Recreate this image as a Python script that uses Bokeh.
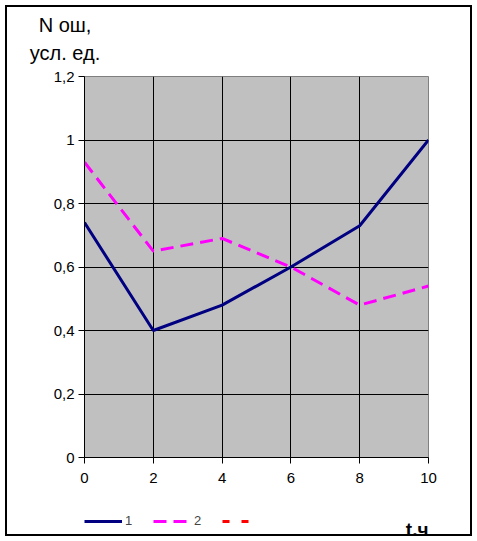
from bokeh.plotting import figure
from bokeh.layouts import column
from bokeh.models import (FixedTicker, CustomJSTickFormatter, Legend, LegendItem, Label,
                          ColumnDataSource, Div)
from bokeh.core.properties import value
from bokeh.embed import file_html
from bokeh.resources import INLINE

# data
t_hours = [0, 2, 4, 6, 8, 10]
series_1 = [0.74, 0.40, 0.48, 0.60, 0.73, 1.00]
series_2 = [0.93, 0.65, 0.69, 0.60, 0.48, 0.54]
y_ticks = [0, 0.2, 0.4, 0.6, 0.8, 1.0, 1.2]
x_ticks = [0, 2, 4, 6, 8, 10]
legend_labels = ["1", "2", " "]
y_title_lines = ["N ош,", "усл. ед."]
x_title = "t,ч"

FONT = "Liberation Sans"
W = 463

# top: y-axis caption as real text
top = Div(text="<br>".join(y_title_lines), width=W, height=59, margin=0,
          styles={"font-family": "'Liberation Sans', Arial, sans-serif", "font-size": "20px",
                  "line-height": "28px", "color": "black", "text-align": "center",
                  "width": "116px", "padding-top": "4px", "white-space": "nowrap"})

# main chart
p = figure(width=W, height=424, output_backend="svg", toolbar_location=None,
           x_range=(0, 10), y_range=(0, 1.2),
           min_border_left=77, min_border_right=42, min_border_top=10, min_border_bottom=33)
p.background_fill_color = "#C0C0C0"
p.border_fill_color = "white"
p.outline_line_color = "#808080"
p.outline_line_width = 1

for ax in (p.xaxis[0], p.yaxis[0]):
    ax.axis_line_color = "black"
    ax.axis_line_width = 1
    ax.major_tick_line_color = "black"
    ax.major_tick_in = 0
    ax.major_tick_out = 6
    ax.minor_tick_line_color = None
    ax.major_label_text_font = FONT
    ax.major_label_text_font_size = "15px"
    ax.major_label_text_color = "black"

p.xaxis.ticker = FixedTicker(ticks=x_ticks)
p.yaxis.ticker = FixedTicker(ticks=y_ticks)
p.yaxis.formatter = CustomJSTickFormatter(code="return String(Math.round(tick*10)/10).replace('.', ',');")
p.xaxis.major_label_standoff = 9
p.yaxis.major_label_standoff = 4

p.xgrid.ticker = FixedTicker(ticks=x_ticks)
p.ygrid.ticker = FixedTicker(ticks=y_ticks)
p.grid.grid_line_color = "black"
p.grid.grid_line_width = 1

src = ColumnDataSource(dict(t=t_hours, s1=series_1, s2=series_2))
p.line("t", "s1", source=src, line_color="#000080", line_width=3)
p.line("t", "s2", source=src, line_color="#FF00FF", line_width=3, line_dash="13 7")

# bottom strip: legend and x-axis caption (legend key lines kept out of view)
bot = figure(width=W, height=44, output_backend="svg", toolbar_location=None,
             x_range=(0, 1), y_range=(10, 11), min_border=0,
             min_border_left=0, min_border_right=0, min_border_top=0, min_border_bottom=0)
bot.axis.visible = False
bot.grid.visible = False
bot.outline_line_color = None
bot.background_fill_color = "white"
bot.border_fill_color = "white"
k1 = bot.line("t", "s1", source=src, line_color="#000080", line_width=3)
k2 = bot.line("t", "s2", source=src, line_color="#FF00FF", line_width=3, line_dash="13 7")
k3 = bot.line("t", "s1", source=src, line_color="#FF0000", line_width=3, line_dash="7 12")
legend = Legend(items=[LegendItem(label=value(legend_labels[0]), renderers=[k1]),
                       LegendItem(label=value(legend_labels[1]), renderers=[k2]),
                       LegendItem(label=value(legend_labels[2]), renderers=[k3])],
                orientation="horizontal", location=(0, 6),
                glyph_width=38, glyph_height=12, label_standoff=3, spacing=8,
                padding=0, margin=0, border_line_color=None, background_fill_alpha=0,
                label_text_font=FONT, label_text_font_size="13px", label_height=12)
bot.add_layout(legend, "center")
bot.add_layout(Label(x=344, y=5, x_units="screen", y_units="screen", text=x_title,
                     text_font=FONT, text_font_size="19px", text_font_style="bold",
                     text_align="right", text_baseline="alphabetic", text_color="black"))

layout = column(top, p, bot, spacing=0,
                styles={"margin": "5px", "border": "2px solid black", "width": "fit-content"})

open("out.html", "w").write(file_html(layout, INLINE))
